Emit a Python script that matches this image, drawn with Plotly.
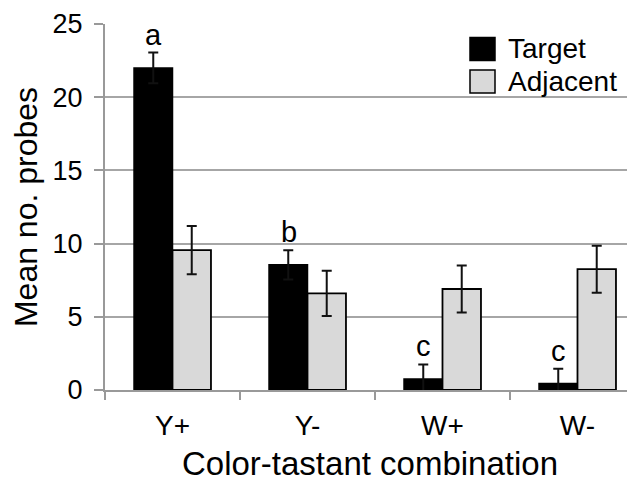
import plotly.graph_objects as go

categories = ["Y+", "Y-", "W+", "W-"]
target = [22.0, 8.55, 0.75, 0.45]
target_err = [1.05, 1.0, 1.0, 1.0]
adjacent = [9.55, 6.6, 6.9, 8.25]
adjacent_err = [1.65, 1.55, 1.6, 1.6]
letters = ["a", "b", "c", "c"]
y_ticks = [0, 5, 10, 15, 20, 25]

FONT = "Arial, Liberation Sans, sans-serif"

# page body has an 8px default margin; size the figure to fill the rest
W, H = 627, 474
ML, MT, MB, MR = 97, 16, 92, 0
PW, PH = W - ML - MR, H - MT - MB

fig = go.Figure()
fig.add_trace(go.Bar(
    name="Target", x=categories, y=target,
    marker=dict(color="#000000", line=dict(color="#000000", width=1.5)),
    error_y=dict(type="data", array=target_err, color="#111111", thickness=2, width=5),
))
fig.add_trace(go.Bar(
    name="Adjacent", x=categories, y=adjacent,
    marker=dict(color="#d9d9d9", line=dict(color="#000000", width=1.8)),
    error_y=dict(type="data", array=adjacent_err, color="#111111", thickness=2, width=5),
))

for c, v, e, l in zip(categories, target, target_err, letters):
    fig.add_annotation(x=c, y=v + e, text=l, showarrow=False, xref="x", yref="y",
                       yanchor="bottom", xshift=-19, yshift=0,
                       font=dict(family=FONT, size=29, color="#000"))

# manual legend (positions in plot-area pixels)
legend_items = [("Target", "#000000"), ("Adjacent", "#d9d9d9")]
for i, (name, col) in enumerate(legend_items):
    top = 13.5 + i * 32.5
    fig.add_shape(type="rect", xref="paper", yref="paper",
                  x0=365 / PW, x1=390 / PW,
                  y0=1 - (top + 23) / PH, y1=1 - top / PH,
                  fillcolor=col, line=dict(color="#000", width=1.5))
    fig.add_annotation(xref="paper", yref="paper", x=401 / PW,
                       y=1 - (top + 11.5) / PH, text=name, showarrow=False,
                       xanchor="left", yanchor="middle",
                       font=dict(family=FONT, size=28, color="#000"))

fig.update_layout(
    width=W, height=H,
    margin=dict(l=ML, r=MR, t=MT, b=MB),
    paper_bgcolor="white", plot_bgcolor="white",
    barmode="group", bargap=0.43, bargroupgap=0,
    showlegend=False,
    font=dict(family=FONT, color="#000"),
    xaxis=dict(
        range=[-0.5, 3.426], showgrid=False, showline=True, linecolor="#999999", linewidth=2,
        ticks="outside", tickson="boundaries", ticklen=8, tickcolor="#999999", tickwidth=2,
        ticklabelstandoff=9,
        tickfont=dict(size=28, family=FONT, color="#000"), automargin=False,
        title=dict(text="Color-tastant combination", font=dict(size=33, family=FONT, color="#000"), standoff=15),
    ),
    yaxis=dict(
        range=[0, 25], tickvals=y_ticks, showgrid=True, gridcolor="#a6a6a6", gridwidth=2,
        showline=True, linecolor="#999999", linewidth=2, zeroline=False,
        ticks="outside", ticklen=9, tickcolor="#999999", tickwidth=2, automargin=False,
        ticklabelstandoff=6,
        tickfont=dict(size=27, family=FONT, color="#000"),
        title=dict(text="Mean no. probes", font=dict(size=32, family=FONT, color="#000"), standoff=10),
    ),
)

fig.write_html("out.html")
